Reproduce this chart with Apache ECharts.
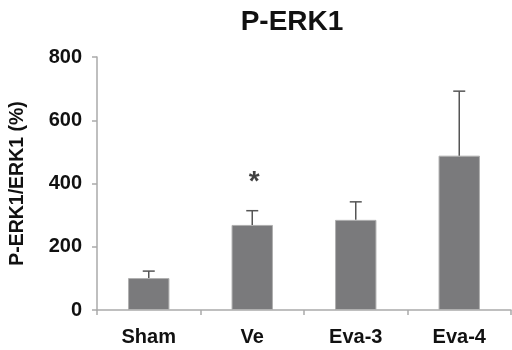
<!DOCTYPE html>
<html><head><meta charset="utf-8">
<script src="https://cdn.jsdelivr.net/npm/echarts@6/dist/echarts.min.js"></script>
<style>html,body{margin:0;padding:0;background:#fff}#c{width:512px;height:350px}</style>
</head><body><div id="c"></div>
<script>
var categories = ['Sham', 'Ve', 'Eva-3', 'Eva-4'];
var means = [101, 269, 285, 488];
var errUpper = [123, 314, 342, 692];
var sigMarks = [null, '*', null, null];
var sigY = [null, 424, null, null];
var yTicks = [0, 200, 400, 600, 800];

var FONT = 'Arial, "Liberation Sans", sans-serif';
var chart = echarts.init(document.getElementById('c'));
chart.setOption({
  animation: false,
  title: {text: 'P-ERK1', left: 287, textAlign: 'center', top: 3,
    textStyle: {fontFamily: FONT, fontWeight: 'bold', fontSize: 28, color: '#111'}},
  grid: {left: 97, right: 1, top: 57, bottom: 40},
  xAxis: {type: 'category', data: categories,
    axisLine: {lineStyle: {color: '#aaa', width: 1.5}},
    axisTick: {show: true, length: 5, lineStyle: {color: '#aaa', width: 1.5}},
    axisLabel: {fontFamily: FONT, fontWeight: 'bold', fontSize: 20, color: '#111', margin: 17}},
  yAxis: {type: 'value', min: yTicks[0], max: yTicks[yTicks.length - 1], interval: 200,
    name: 'P-ERK1/ERK1 (%)', nameLocation: 'middle', nameGap: 69,
    nameTextStyle: {fontFamily: FONT, fontWeight: 'bold', fontSize: 19.5, color: '#111'},
    axisLine: {show: true, lineStyle: {color: '#aaa', width: 1.5}},
    axisTick: {show: true, length: 5, lineStyle: {color: '#aaa', width: 1.5}},
    splitLine: {show: false},
    axisLabel: {fontFamily: FONT, fontWeight: 'bold', fontSize: 20, color: '#111', margin: 15}},
  series: [
    {type: 'bar', data: means, barWidth: '40%',
      itemStyle: {color: '#7a7a7c', borderColor: '#b0b0b0', borderWidth: 1}, z: 2},
    {type: 'custom', z: 3,
      data: categories.map(function (c, i) { return [i, means[i], errUpper[i]]; }),
      renderItem: function (params, api) {
        var p0 = api.coord([api.value(0), api.value(1)]);
        var p1 = api.coord([api.value(0), api.value(2)]);
        var hw = 6;
        var st = {stroke: '#555', lineWidth: 1.5, fill: 'none'};
        return {type: 'group', children: [
          {type: 'line', shape: {x1: p0[0], y1: p0[1], x2: p1[0], y2: p1[1]}, style: st},
          {type: 'line', shape: {x1: p1[0] - hw, y1: p1[1], x2: p1[0] + hw, y2: p1[1]}, style: st}
        ]};
      }},
    {type: 'scatter', symbolSize: 0, z: 4,
      data: categories.map(function (c, i) { return sigMarks[i] ? [i, sigY[i], sigMarks[i]] : null; }).filter(Boolean),
      label: {show: true, position: 'inside', formatter: function (p) { return p.data[2]; },
        fontFamily: FONT, fontWeight: 'bold', fontSize: 28, color: '#111', offset: [2, 6]}}
  ]
});
</script></body></html>
